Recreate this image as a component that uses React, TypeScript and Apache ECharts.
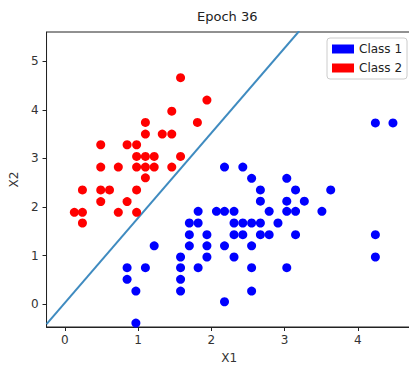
import React, { useEffect, useRef } from "react";
import * as echarts from "echarts";

const titleText = "Epoch 36";
const xTicks = [0, 1, 2, 3, 4];
const yTicks = [0, 1, 2, 3, 4, 5];

const class2X = [1.58, 1.94, 1.46, 1.81, 1.10, 1.10, 1.33, 1.46, 0.49, 0.85, 0.98, 0.98, 1.10, 1.22, 1.58, 0.49, 0.73, 0.98, 1.10, 1.22, 1.46, 1.10, 0.24, 0.49, 0.61, 0.98, 0.49, 0.85, 0.13, 0.24, 0.73, 0.98, 0.24];
const class2Y = [4.66, 4.2, 3.97, 3.74, 3.74, 3.5, 3.5, 3.5, 3.28, 3.28, 3.28, 3.04, 3.04, 3.04, 3.04, 2.82, 2.82, 2.82, 2.82, 2.82, 2.82, 2.6, 2.35, 2.35, 2.35, 2.35, 2.11, 2.11, 1.89, 1.89, 1.89, 1.89, 1.67];

const class1X = [
  2.18, 2.43,
  2.55, 3.03,
  2.67, 3.15, 3.63,
  2.67, 3.03, 3.27,
  1.82, 2.07, 2.18, 2.31, 2.79, 3.03, 3.15, 3.51,
  1.70, 1.82, 2.31, 2.43, 2.55, 2.67, 2.91,
  1.70, 1.94, 2.31, 2.43, 2.67, 2.79, 3.15, 4.24,
  1.22, 1.70, 1.94, 2.18, 2.55,
  1.58, 1.94, 2.31, 4.24,
  0.85, 1.10, 1.58, 1.82, 2.55, 3.03,
  0.85, 1.58,
  0.97, 1.58, 2.55,
  2.18,
  0.97,
  4.24, 4.48,
];
const class1Y = [
  2.82, 2.82,
  2.59, 2.59,
  2.35, 2.35, 2.35,
  2.12, 2.12, 2.12,
  1.91, 1.91, 1.91, 1.91, 1.91, 1.91, 1.91, 1.91,
  1.67, 1.67, 1.67, 1.67, 1.67, 1.67, 1.67,
  1.43, 1.43, 1.43, 1.43, 1.43, 1.43, 1.43, 1.43,
  1.2, 1.2, 1.2, 1.2, 1.2,
  0.97, 0.97, 0.97, 0.97,
  0.75, 0.75, 0.75, 0.75, 0.75, 0.75,
  0.51, 0.51,
  0.27, 0.27, 0.27,
  0.05,
  -0.39,
  3.73, 3.73,
];

const boundaryX = [-0.25, 3.2];
const boundaryY = [-0.41, 5.62];

const zip = (xs: number[], ys: number[]) => xs.map((x, i) => [x, ys[i]]);

export default function App() {
  const ref = useRef<HTMLDivElement>(null);
  useEffect(() => {
    if (!ref.current) return;
    const chart = echarts.init(ref.current, undefined, { renderer: "svg" });
    const font = "DejaVu Sans";
    const axisCommon = {
      type: "value" as const,
      splitLine: { show: false },
      axisLine: { show: true, onZero: false, lineStyle: { color: "#222", width: 1 } },
      axisTick: { show: true, length: 4, lineStyle: { color: "#222" } },
      axisLabel: { color: "#333", fontSize: 12, fontFamily: font },
      nameTextStyle: { color: "#333", fontSize: 12, fontFamily: font },
      nameLocation: "middle" as const,
    };
    chart.setOption({
      animation: false,
      backgroundColor: "#fff",
      title: {
        text: titleText,
        left: 197,
        top: 10,
        padding: 0,
        textStyle: { fontFamily: font, fontSize: 13, fontWeight: "normal", color: "#222" },
      },
      legend: {
        orient: "vertical",
        left: 327,
        top: 38,
        padding: [5, 5, 5, 5],
        itemGap: 7,
        itemWidth: 22,
        itemHeight: 9,
        backgroundColor: "#fff",
        borderColor: "#ccc",
        borderWidth: 1,
        borderRadius: 3,
        textStyle: { fontFamily: font, fontSize: 12, color: "#222" },
        data: [
          { name: "Class 1", icon: "rect", itemStyle: { color: "#0000ff", opacity: 1 } },
          { name: "Class 2", icon: "rect", itemStyle: { color: "#ff0000", opacity: 1 } },
        ],
      },
      grid: {
        left: 41,
        top: 32,
        right: 0,
        bottom: 39,
        show: true,
        borderColor: "#222",
        borderWidth: 1,
        backgroundColor: "#fff",
      },
      xAxis: {
        ...axisCommon,
        min: -0.25,
        max: 4.74,
        name: "X1",
        nameGap: 25,
        axisTick: { ...axisCommon.axisTick, customValues: xTicks },
        axisLabel: { ...axisCommon.axisLabel, customValues: xTicks, margin: 7 },
      },
      yAxis: {
        ...axisCommon,
        min: -0.47,
        max: 5.6,
        name: "X2",
        nameGap: 22,
        axisTick: { ...axisCommon.axisTick, customValues: yTicks },
        axisLabel: { ...axisCommon.axisLabel, customValues: yTicks, margin: 8 },
      },
      series: [
        {
          name: "Boundary",
          type: "line",
          data: zip(boundaryX, boundaryY),
          showSymbol: false,
          symbol: "none",
          lineStyle: { color: "#3f8bc0", width: 2 },
          clip: true,
          z: 1,
        },
        {
          name: "Class 1",
          type: "scatter",
          data: zip(class1X, class1Y),
          symbolSize: 9,
          itemStyle: { color: "#0000ff", opacity: 1 },
          z: 3,
        },
        {
          name: "Class 2",
          type: "scatter",
          data: zip(class2X, class2Y),
          symbolSize: 9,
          itemStyle: { color: "#ff0000", opacity: 1 },
          z: 3,
        },
      ],
    });
    return () => chart.dispose();
  }, []);
  return (
    <div
      ref={ref}
      style={{ position: "fixed", left: 0, top: 0, width: 412, height: 369 }}
    />
  );
}
